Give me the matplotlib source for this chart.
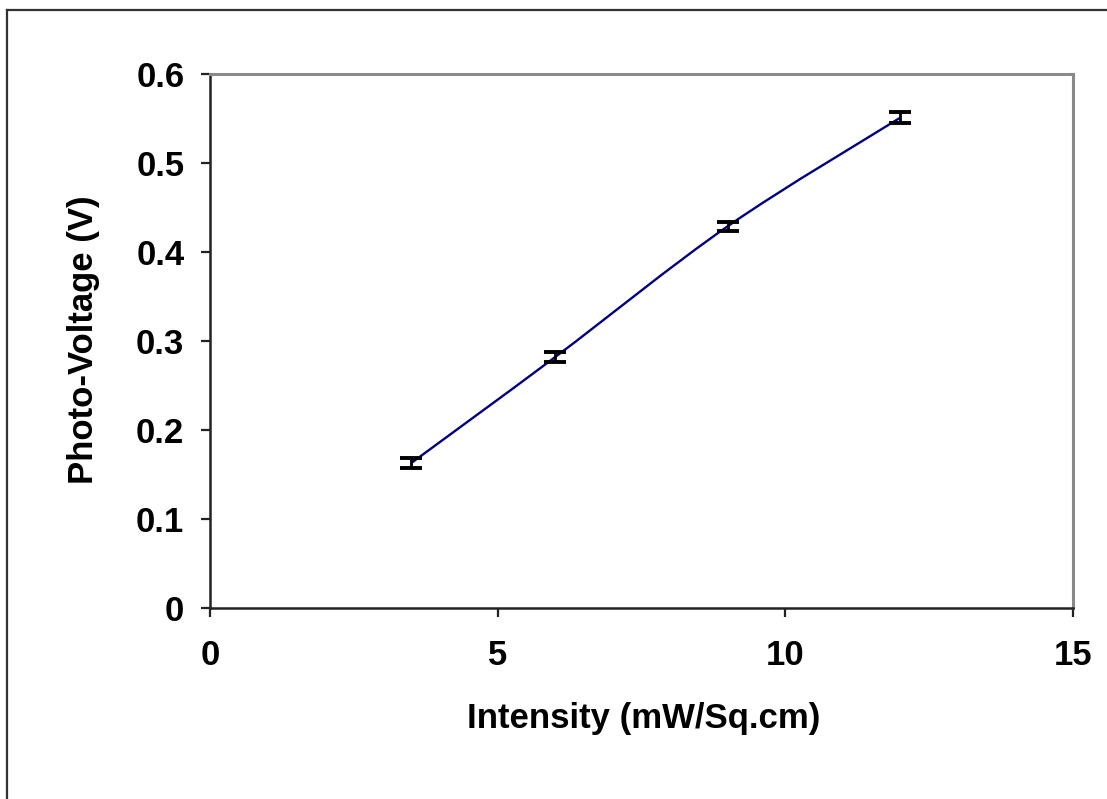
import numpy as np
import matplotlib.pyplot as plt
from matplotlib.path import Path
from matplotlib.patches import PathPatch
from matplotlib.lines import Line2D

intensity = [3.5, 6.0, 9.0, 12.0]
voltage = [0.163, 0.282, 0.429, 0.551]
voltage_err = [0.006, 0.006, 0.005, 0.006]

x_ticks = [0, 5, 10, 15]
y_ticks = [0, 0.1, 0.2, 0.3, 0.4, 0.5, 0.6]
y_tick_labels = ["0", "0.1", "0.2", "0.3", "0.4", "0.5", "0.6"]

plt.rcParams['font.family'] = ['Liberation Sans', 'DejaVu Sans']
plt.rcParams['font.weight'] = 'bold'


def smooth_path(xs, ys):
    # cubic bezier through the points, spreadsheet-style smoothing
    pts = np.column_stack([xs, ys])
    n = len(pts)
    verts = [pts[0]]
    codes = [Path.MOVETO]
    for i in range(n - 1):
        p_prev = pts[i - 1] if i > 0 else pts[i]
        p_next = pts[i + 2] if i + 2 < n else pts[i + 1]
        c1 = pts[i] + (pts[i + 1] - p_prev) / 6
        c2 = pts[i + 1] - (p_next - pts[i]) / 6
        verts += [c1, c2, pts[i + 1]]
        codes += [Path.CURVE4] * 3
    return Path(verts, codes)


fig = plt.figure(figsize=(11.07, 7.99), dpi=100)
ax = fig.add_axes([0.1897, 0.2390, 0.7796, 0.6684])

ax.add_patch(PathPatch(smooth_path(intensity, voltage), facecolor='none',
                       edgecolor='#000080', lw=1.7, zorder=2))
ax.errorbar(intensity, voltage, yerr=voltage_err, fmt='none', ecolor='black',
            elinewidth=2, capsize=8, capthick=2.8, zorder=3)

ax.set_xlim(0, 15)
ax.set_ylim(0, 0.6)
ax.set_xticks(x_ticks)
ax.set_yticks(y_ticks)
ax.set_yticklabels(y_tick_labels)

for side in ['left', 'bottom']:
    ax.spines[side].set_color('#222222')
    ax.spines[side].set_linewidth(1.8)
for side in ['top', 'right']:
    ax.spines[side].set_color('#8a8a8a')
    ax.spines[side].set_linewidth(2.2)

ax.tick_params(axis='both', direction='out', length=6.5, width=1.6,
               color='#222222', labelsize=25)
ax.tick_params(axis='y', pad=12)
ax.tick_params(axis='x', pad=16)

ax.set_xlabel("Intensity (mW/Sq.cm)", fontsize=25, fontweight='bold', va='center')
ax.set_ylabel("Photo-Voltage (V)", fontsize=25, fontweight='bold', va='center')
ax.xaxis.set_label_coords(0.502, -0.206)
ax.yaxis.set_label_coords(-0.146, 0.502)

# chart frame
fig.add_artist(Line2D([0.0063, 0.0063], [0, 0.9875], color='#333333', lw=1.6))
fig.add_artist(Line2D([0.0063, 1.0], [0.9875, 0.9875], color='#333333', lw=1.6))

fig.savefig("out.png", dpi=100)
